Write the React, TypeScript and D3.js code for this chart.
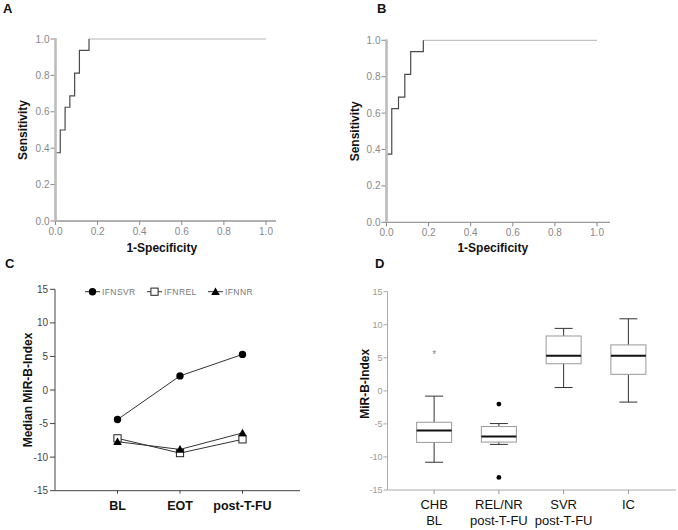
import React from "react";
import * as d3 from "d3";

// ---------- Data ----------
// Panel A ROC (step points: fpr where sensitivity jumps to tpr)
const rocAFpr = [0, 0.0227, 0.0455, 0.0682, 0.0909, 0.1136, 0.1591];
const rocATpr = [0.375, 0.5, 0.625, 0.6875, 0.8125, 0.9375, 1.0];
// Panel B ROC
const rocBFpr = [0, 0.025, 0.057, 0.087, 0.115, 0.175];
const rocBTpr = [0.375, 0.625, 0.6875, 0.8125, 0.9375, 1.0];
const rocTicks = [0, 0.2, 0.4, 0.6, 0.8, 1.0];

// Panel C medians
const timepoints = ["BL", "EOT", "post-T-FU"];
const ifnSvr = [-4.4, 2.1, 5.3];
const ifnRel = [-7.2, -9.4, -7.35];
const ifnNr = [-7.7, -8.85, -6.4];
const seriesNames = ["IFNSVR", "IFNREL", "IFNNR"];
const indexTicks = [-15, -10, -5, 0, 5, 10, 15];

// Panel D boxplots
const boxGroups = ["CHB|BL", "REL/NR|post-T-FU", "SVR|post-T-FU", "IC"];
const whiskerLow = [-10.8, -8.1, 0.5, -1.7];
const quart1 = [-7.8, -7.75, 4.1, 2.5];
const medians = [-6.0, -6.9, 5.3, 5.3];
const quart3 = [-4.75, -5.4, 8.3, 6.95];
const whiskerHigh = [-0.8, -4.95, 9.45, 10.9];
const outlierGroup = [0, 1, 1];
const outlierValue = [5.7, -2.0, -13.1];
const outlierKind = ["star", "dot", "dot"];

const FONT = "'Liberation Sans', Arial, Helvetica, sans-serif";

function fmt1(v: number) {
  return v.toFixed(1);
}

function RocPanel({ fpr, tpr, x0, x1, xEnd, yTop, yBot, letter, letterX, ylabX }: any) {
  const x = d3.scaleLinear().domain([0, 1]).range([x0, x1]);
  const y = d3.scaleLinear().domain([0, 1]).range([yBot, yTop]);
  const pts: [number, number][] = [[0, 0]];
  fpr.forEach((f: number, i: number) => pts.push([f, tpr[i]]));
  const step = d3
    .line<[number, number]>()
    .x((d) => x(d[0]))
    .y((d) => y(d[1]))
    .curve(d3.curveStepAfter)(pts);
  const lastF = fpr[fpr.length - 1];
  const flat = d3
    .line<[number, number]>()
    .x((d) => x(d[0]))
    .y((d) => y(d[1]))([
    [lastF, 1],
    [1, 1],
  ]);
  return (
    <g>
      <text x={letterX} y={13} fontFamily={FONT} fontWeight="bold" fontSize={13} fill="#111">
        {letter}
      </text>
      {/* x axis */}
      <line x1={x0} x2={xEnd} y1={yBot} y2={yBot} stroke="#999" strokeWidth={1.3} />
      {rocTicks.map((t) => (
        <g key={"xt" + t}>
          <line x1={x(t)} x2={x(t)} y1={yBot} y2={yBot + 4} stroke="#888" strokeWidth={1} />
          <text x={x(t)} y={yBot + 14} textAnchor="middle" fontFamily={FONT} fontSize={10} fill="#888">
            {fmt1(t)}
          </text>
        </g>
      ))}
      {rocTicks.map((t) => (
        <g key={"yt" + t}>
          <line x1={x0 - 5} x2={x0} y1={y(t)} y2={y(t)} stroke="#888" strokeWidth={1} />
          <text x={x0 - 6} y={y(t) + 3.5} textAnchor="end" fontFamily={FONT} fontSize={10} fill="#888">
            {fmt1(t)}
          </text>
        </g>
      ))}
      <path d={flat || ""} fill="none" stroke="#b5b5b5" strokeWidth={1} />
      <path d={step || ""} fill="none" stroke="#4a4a4a" strokeWidth={1.2} />
      {/* y axis (thick gray) */}
      <line x1={x0} x2={x0} y1={yBot} y2={yTop - 1} stroke="#bdbdbd" strokeWidth={2.6} />
      <text
        transform={`translate(${ylabX},${(yTop + yBot) / 2}) rotate(-90)`}
        textAnchor="middle"
        dy="0.35em"
        fontFamily={FONT}
        fontWeight="bold"
        fontSize={12}
        fill="#111"
      >
        Sensitivity
      </text>
      <text x={(x0 + x1) / 2 + 1} y={252} textAnchor="middle" fontFamily={FONT} fontWeight="bold" fontSize={12} fill="#111">
        1-Specificity
      </text>
    </g>
  );
}

function Marker({ kind, cx, cy }: any) {
  if (kind === 0) return <circle cx={cx} cy={cy} r={3.7} fill="#000" />;
  if (kind === 1)
    return <rect x={cx - 3.6} y={cy - 3.6} width={7.2} height={7.2} fill="#fff" stroke="#222" strokeWidth={1} />;
  const s = 4.3;
  return <path d={`M${cx},${cy - s}L${cx + s},${cy + s * 0.75}L${cx - s},${cy + s * 0.75}Z`} fill="#000" />;
}

function PanelC() {
  const x0 = 55;
  const xEnd = 300;
  const yTop = 289.3;
  const yBot = 490.7;
  const x = d3.scalePoint<string>().domain(timepoints).range([x0, 305]).padding(1);
  const y = d3.scaleLinear().domain([-15, 15]).range([yBot, yTop]);
  const series = [ifnSvr, ifnRel, ifnNr];
  const line = d3
    .line<number>()
    .x((_, i) => x(timepoints[i]) as number)
    .y((d) => y(d));
  const legendX = [85, 147, 208];
  const legendY = 291.7;
  return (
    <g>
      <text x={5} y={268} fontFamily={FONT} fontWeight="bold" fontSize={13} fill="#111">
        C
      </text>
      <line x1={x0} x2={xEnd} y1={yBot} y2={yBot} stroke="#444" strokeWidth={1} />
      <line x1={x0} x2={x0} y1={yTop} y2={yBot} stroke="#444" strokeWidth={1} />
      {indexTicks.map((t) => (
        <g key={"cy" + t}>
          <line x1={x0 - 5} x2={x0} y1={y(t)} y2={y(t)} stroke="#444" />
          <text x={x0 - 7} y={y(t) + 3.5} textAnchor="end" fontFamily={FONT} fontSize={10} fill="#444">
            {t}
          </text>
        </g>
      ))}
      {timepoints.map((c) => (
        <g key={c}>
          <line x1={x(c)} x2={x(c)} y1={yBot} y2={yBot + 3} stroke="#444" />
          <text x={x(c)} y={510} textAnchor="middle" fontFamily={FONT} fontWeight="bold" fontSize={12.5} fill="#111">
            {c}
          </text>
        </g>
      ))}
      {series.map((s, k) => (
        <g key={"s" + k}>
          <path d={line(s) || ""} fill="none" stroke="#333" strokeWidth={1} />
        </g>
      ))}
      {series.map((s, k) =>
        s.map((v, i) => <Marker key={"m" + k + i} kind={k} cx={x(timepoints[i])} cy={y(v)} />)
      )}
      {seriesNames.map((n, k) => (
        <g key={n}>
          <line x1={legendX[k]} x2={legendX[k] + 15} y1={legendY} y2={legendY} stroke="#333" />
          <g transform="scale(1)">
            <Marker kind={k} cx={legendX[k] + 7.5} cy={legendY} />
          </g>
          <text
            x={legendX[k] + 17}
            y={legendY + 3}
            fontFamily={FONT}
            fontSize={8.5}
            letterSpacing={0.4}
            fill="#777"
          >
            {n}
          </text>
        </g>
      ))}
      <text
        transform={`translate(28,${(yTop + yBot) / 2}) rotate(-90)`}
        textAnchor="middle"
        dy="0.35em"
        fontFamily={FONT}
        fontWeight="bold"
        fontSize={12}
        fill="#111"
      >
        Median MiR-B-Index
      </text>
    </g>
  );
}

function PanelD() {
  const x0 = 387.5;
  const xEnd = 676;
  const yTop = 291.7;
  const yBot = 490;
  const x = d3.scalePoint<string>().domain(boxGroups).range([x0, 675]).padding(0.72);
  const y = d3.scaleLinear().domain([-15, 15]).range([yBot, yTop]);
  const bw = 35;
  const cw = 18;
  return (
    <g>
      <text x={375} y={268} fontFamily={FONT} fontWeight="bold" fontSize={13} fill="#111">
        D
      </text>
      <line x1={x0} x2={xEnd} y1={yBot} y2={yBot} stroke="#aaa" strokeWidth={1} />
      <line x1={x0} x2={x0} y1={yTop} y2={yBot} stroke="#aaa" strokeWidth={1} />
      {indexTicks.map((t) => (
        <g key={"dy" + t}>
          <line x1={x0 - 4} x2={x0} y1={y(t)} y2={y(t)} stroke="#aaa" />
          <text x={x0 - 5} y={y(t) + 3} textAnchor="end" fontFamily={FONT} fontSize={9} fill="#999">
            {t}
          </text>
        </g>
      ))}
      {boxGroups.map((g, i) => {
        const cx = x(g) as number;
        const lines = g.split("|");
        return (
          <g key={g}>
            <line x1={cx} x2={cx} y1={yBot} y2={yBot + 4} stroke="#999" />
            {lines.map((l, j) => (
              <text key={l + j} x={cx} y={509 + j * 16} textAnchor="middle" fontFamily={FONT} fontSize={13} fill="#111">
                {l}
              </text>
            ))}
            {/* whiskers */}
            <line x1={cx} x2={cx} y1={y(quart3[i])} y2={y(whiskerHigh[i])} stroke="#333" />
            <line x1={cx} x2={cx} y1={y(quart1[i])} y2={y(whiskerLow[i])} stroke="#333" />
            <line x1={cx - cw / 2} x2={cx + cw / 2} y1={y(whiskerHigh[i])} y2={y(whiskerHigh[i])} stroke="#333" />
            <line x1={cx - cw / 2} x2={cx + cw / 2} y1={y(whiskerLow[i])} y2={y(whiskerLow[i])} stroke="#333" />
            <rect
              x={cx - bw / 2}
              y={y(quart3[i])}
              width={bw}
              height={y(quart1[i]) - y(quart3[i])}
              fill="#fff"
              stroke="#999"
              strokeWidth={1}
            />
            <line x1={cx - bw / 2} x2={cx + bw / 2} y1={y(medians[i])} y2={y(medians[i])} stroke="#111" strokeWidth={2} />
          </g>
        );
      })}
      {outlierValue.map((v, k) => {
        const cx = x(boxGroups[outlierGroup[k]]) as number;
        if (outlierKind[k] === "star")
          return (
            <text key={"o" + k} x={cx} y={y(v) + 5} textAnchor="middle" fontFamily={FONT} fontSize={10} fill="#888">
              *
            </text>
          );
        return <circle key={"o" + k} cx={cx} cy={y(v)} r={2.4} fill="#000" />;
      })}
      <text
        transform={`translate(364.7,${(yTop + yBot) / 2 - 7}) rotate(-90)`}
        textAnchor="middle"
        dy="0.35em"
        fontFamily={FONT}
        fontWeight="bold"
        fontSize={12}
        fill="#111"
      >
        MiR-B-Index
      </text>
    </g>
  );
}

export default function App() {
  return (
    <svg
      width={678}
      height={530}
      viewBox="0 0 678 530"
      style={{ position: "absolute", left: 0, top: 0, background: "#fff" }}
    >
      <rect width={678} height={530} fill="#fff" />
      <RocPanel fpr={rocAFpr} tpr={rocATpr} x0={55.5} x1={266} xEnd={276} yTop={39} yBot={221} letter="A" letterX={3} ylabX={22.3} />
      <RocPanel fpr={rocBFpr} tpr={rocBTpr} x0={386.5} x1={597} xEnd={610} yTop={40.3} yBot={222.3} letter="B" letterX={377} ylabX={354.7} />
      <PanelC />
      <PanelD />
    </svg>
  );
}
